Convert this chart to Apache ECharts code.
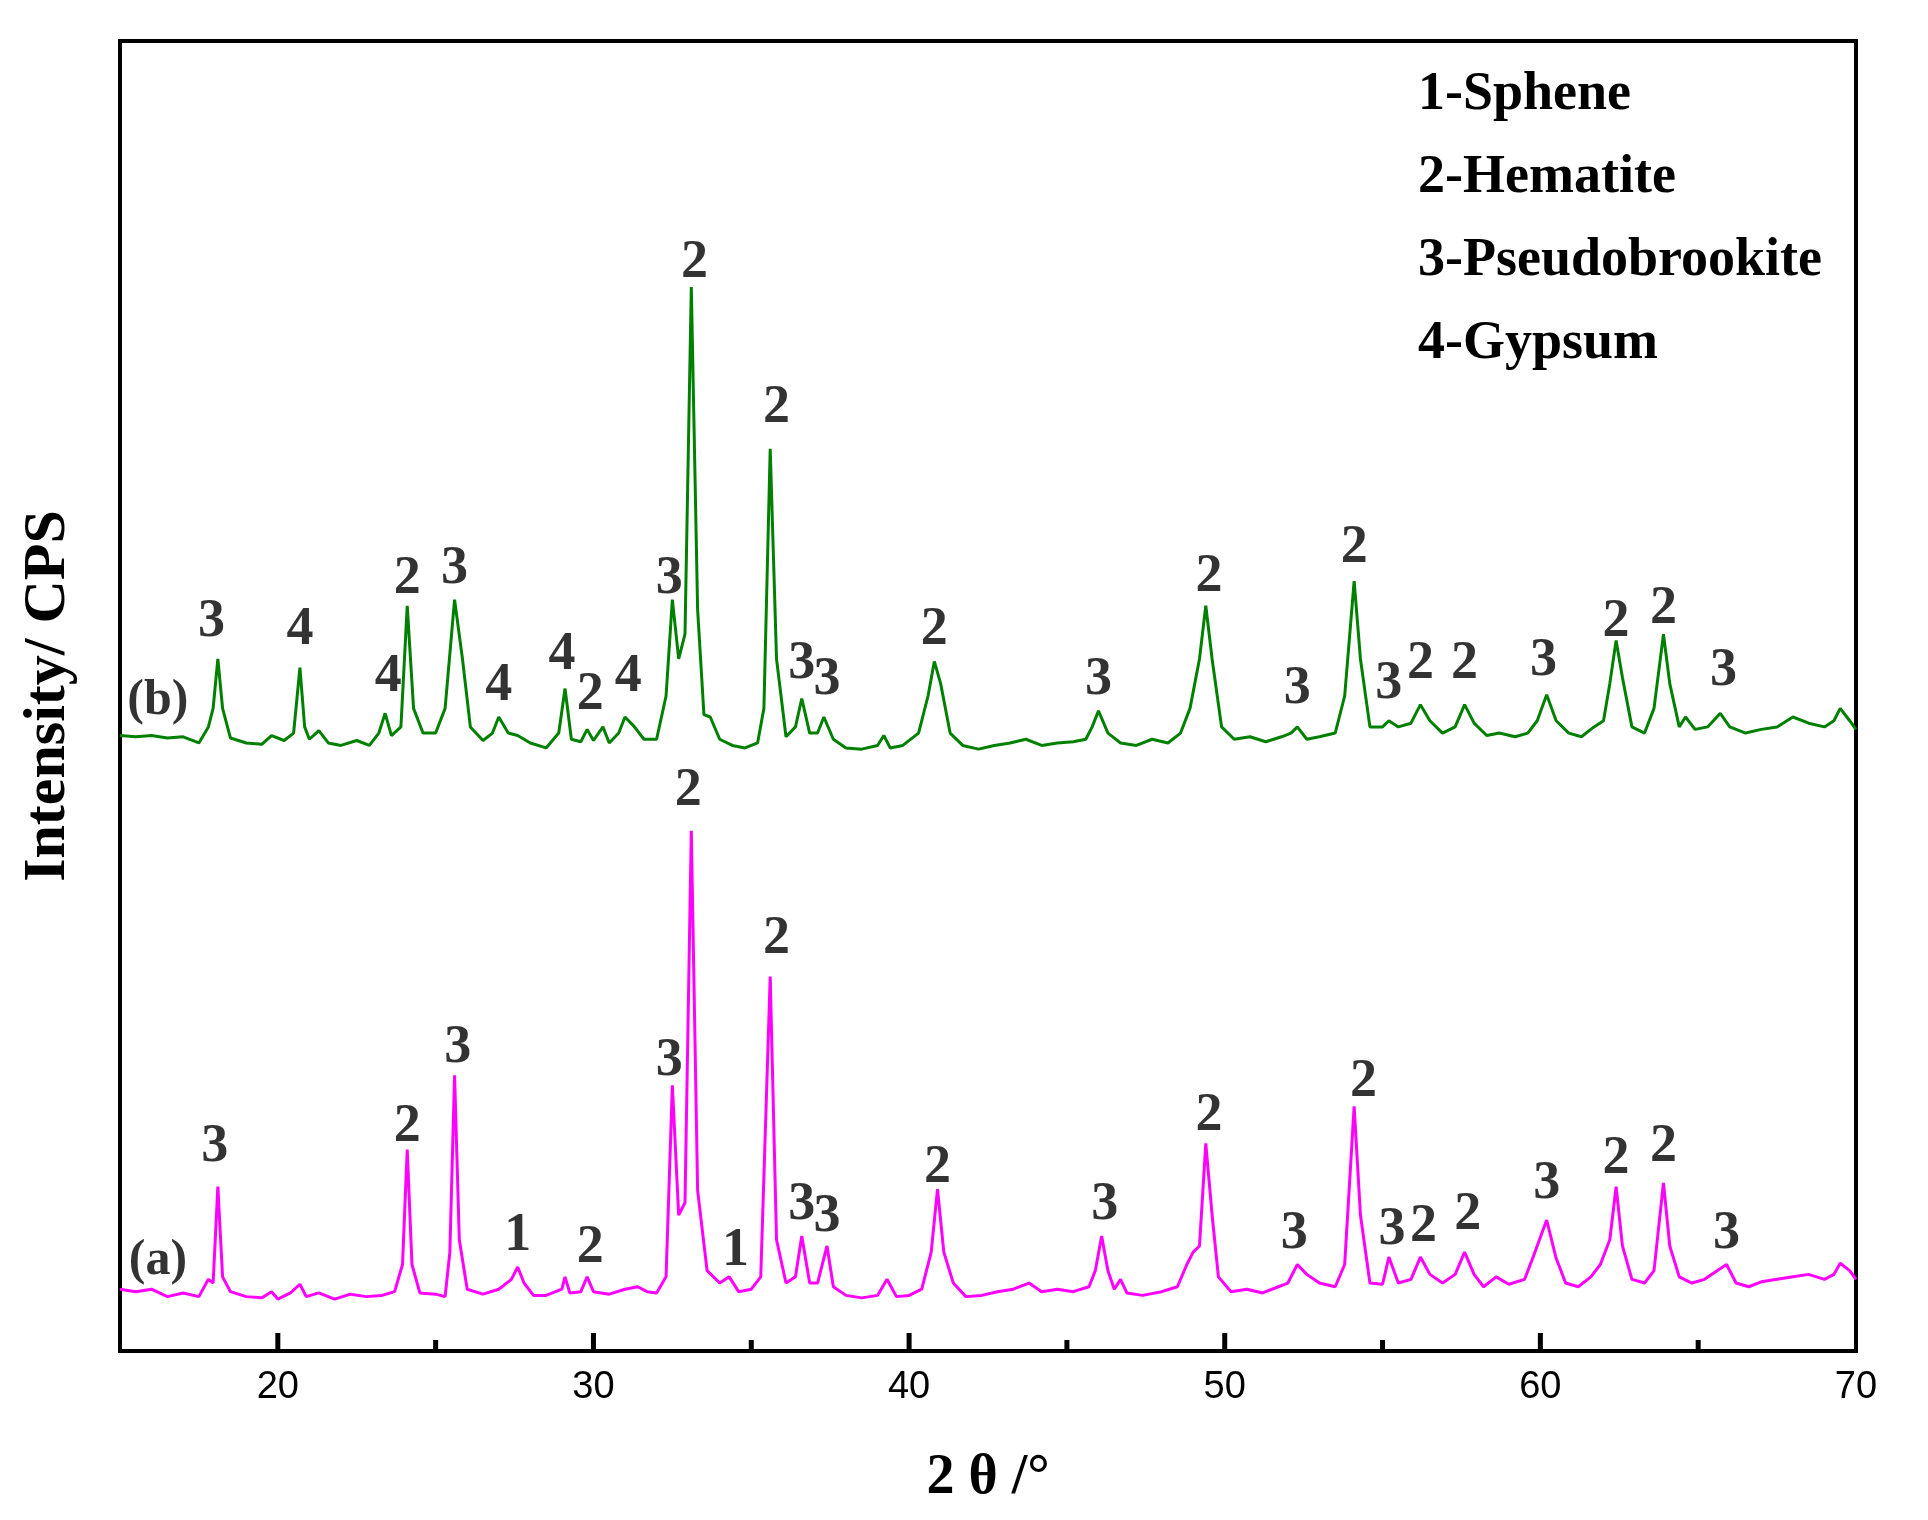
<!DOCTYPE html>
<html>
<head>
<meta charset="utf-8">
<script src="https://cdn.jsdelivr.net/npm/echarts@6/dist/echarts.min.js"></script>
<style>html,body{margin:0;padding:0;background:#fff}#main{width:1928px;height:1520px}</style>
</head>
<body>
<div id="main"></div>
<script>
// 2theta / intensity pairs (arbitrary intensity units)
var curveA = [
  [15.0,50],[15.5,48],[16.0,50],[16.5,44],[17.0,47],[17.5,44],[17.8,58],[17.95,55],[18.1,133],[18.25,60],[18.5,48],[19.0,44],[19.5,43],[19.8,48],[20.0,42],[20.4,47],[20.7,54],[20.9,44],[21.3,47],[21.8,42],[22.3,46],[22.8,44],[23.3,45],[23.7,48],[23.95,70],[24.1,163],[24.25,70],[24.5,47],[25.0,46],[25.3,44],[25.45,80],[25.6,223],[25.75,90],[26.0,50],[26.5,46],[27.0,50],[27.4,58],[27.6,68],[27.8,55],[28.1,45],[28.5,45],[29.0,50],[29.1,60],[29.25,47],[29.6,48],[29.8,60],[30.0,48],[30.5,46],[31.0,50],[31.4,52],[31.7,48],[32.0,47],[32.3,60],[32.5,215],[32.7,110],[32.9,120],[33.1,421],[33.3,130],[33.6,65],[34.0,55],[34.3,60],[34.6,48],[35.0,50],[35.3,60],[35.6,303],[35.8,90],[36.1,55],[36.4,60],[36.6,93],[36.85,55],[37.1,55],[37.4,85],[37.6,52],[38.0,45],[38.5,43],[39.0,45],[39.3,58],[39.6,44],[40.0,45],[40.4,50],[40.7,80],[40.9,131],[41.1,80],[41.4,55],[41.8,44],[42.3,45],[42.8,48],[43.3,50],[43.8,55],[44.2,48],[44.7,50],[45.2,48],[45.7,52],[45.9,65],[46.1,93],[46.3,65],[46.5,50],[46.7,58],[46.9,47],[47.4,45],[48.0,48],[48.5,52],[48.8,70],[49.0,80],[49.2,85],[49.4,168],[49.6,110],[49.8,60],[50.2,48],[50.7,50],[51.2,47],[51.7,52],[52.0,55],[52.3,70],[52.6,62],[53.0,55],[53.5,52],[53.8,70],[54.1,198],[54.3,110],[54.6,55],[55.0,54],[55.2,76],[55.5,55],[55.9,58],[56.2,76],[56.5,62],[56.9,55],[57.3,62],[57.6,80],[57.9,62],[58.2,52],[58.6,60],[59.0,54],[59.5,58],[59.8,78],[60.2,106],[60.5,75],[60.8,55],[61.2,52],[61.6,60],[61.9,70],[62.2,90],[62.4,133],[62.6,85],[62.9,58],[63.3,55],[63.6,65],[63.9,136],[64.1,85],[64.4,60],[64.8,55],[65.2,58],[65.6,65],[65.9,70],[66.2,55],[66.6,52],[67.0,56],[67.5,58],[68.0,60],[68.5,62],[69.0,58],[69.3,62],[69.5,71],[69.8,65],[70.0,58]
];
var curveB = [
  [15.0,498],[15.5,497],[16.0,498],[16.5,496],[17.0,497],[17.5,492],[17.8,505],[17.95,520],[18.1,560],[18.25,520],[18.5,496],[19.0,492],[19.5,491],[19.8,498],[20.2,494],[20.5,500],[20.7,553],[20.85,505],[21.0,495],[21.3,502],[21.6,492],[22.0,490],[22.5,494],[22.9,490],[23.2,500],[23.4,516],[23.6,498],[23.9,505],[24.1,603],[24.3,520],[24.6,500],[25.0,500],[25.3,520],[25.6,608],[25.85,560],[26.1,505],[26.5,494],[26.8,500],[27.0,513],[27.3,500],[27.6,498],[28.0,492],[28.5,488],[28.9,500],[29.1,536],[29.3,495],[29.6,493],[29.8,503],[30.0,494],[30.3,505],[30.5,492],[30.8,500],[31.0,513],[31.3,505],[31.6,495],[32.0,495],[32.3,530],[32.5,608],[32.7,560],[32.9,580],[33.1,861],[33.3,600],[33.5,515],[33.7,513],[34.0,495],[34.4,490],[34.8,488],[35.2,492],[35.4,520],[35.6,730],[35.8,560],[36.1,497],[36.4,505],[36.6,528],[36.85,500],[37.1,500],[37.3,513],[37.6,495],[38.0,488],[38.5,487],[39.0,490],[39.2,498],[39.4,488],[39.8,490],[40.3,500],[40.6,530],[40.8,558],[41.0,540],[41.3,500],[41.7,490],[42.2,487],[42.7,490],[43.2,492],[43.7,495],[44.2,490],[44.7,492],[45.2,493],[45.6,495],[45.8,505],[46.0,518],[46.3,500],[46.7,492],[47.2,490],[47.7,495],[48.2,492],[48.6,500],[48.9,520],[49.2,560],[49.4,603],[49.6,560],[49.9,505],[50.3,495],[50.8,497],[51.3,493],[51.8,497],[52.1,500],[52.3,505],[52.6,495],[53.0,497],[53.5,500],[53.8,530],[54.1,623],[54.3,560],[54.6,505],[55.0,505],[55.2,510],[55.5,505],[55.9,508],[56.2,523],[56.5,510],[56.9,500],[57.3,505],[57.6,523],[57.9,508],[58.3,498],[58.7,500],[59.2,497],[59.6,500],[59.9,510],[60.2,531],[60.5,510],[60.9,500],[61.3,497],[61.7,505],[62.0,510],[62.2,540],[62.4,575],[62.6,545],[62.9,505],[63.3,500],[63.6,520],[63.9,580],[64.1,540],[64.4,505],[64.6,513],[64.9,503],[65.3,505],[65.7,516],[66.0,505],[66.5,500],[67.0,503],[67.5,505],[68.0,513],[68.5,508],[69.0,505],[69.3,510],[69.5,520],[69.8,510],[70.0,503]
];
// peak marks: [2theta, label height, phase number]
var marksA = [
  [18.0,165,'3'],[24.1,181,'2'],[25.7,245,'3'],[27.6,93,'1'],[29.9,83,'2'],[32.4,235,'3'],[33.0,453,'2'],[34.5,81,'1'],[35.8,333,'2'],[36.6,118,'3'],[37.4,108,'3'],[40.9,148,'2'],[46.2,118,'3'],[49.5,190,'2'],[52.2,95,'3'],[54.4,218,'2'],[55.3,98,'3'],[56.3,100,'2'],[57.7,110,'2'],[60.2,135,'3'],[62.4,155,'2'],[63.9,165,'2'],[65.9,95,'3']
];
var marksB = [
  [17.9,590,'3'],[20.7,583,'4'],[23.5,545,'4'],[24.1,625,'2'],[25.6,633,'3'],[27.0,538,'4'],[29.0,563,'4'],[29.9,531,'2'],[31.1,545,'4'],[32.4,625,'3'],[33.2,880,'2'],[35.8,763,'2'],[36.6,556,'3'],[37.4,543,'3'],[40.8,583,'2'],[46.0,543,'3'],[49.5,626,'2'],[52.3,536,'3'],[54.1,650,'2'],[55.2,540,'3'],[56.2,556,'2'],[57.6,556,'2'],[60.1,558,'3'],[62.4,590,'2'],[63.9,600,'2'],[65.8,550,'3']
];
var sampleTags = [[16.2,73,'(a)'],[16.2,526,'(b)']];
var legendLines = ['1-Sphene','2-Hematite','3-Pseudobrookite','4-Gypsum'];
// x tick positions: [2theta, major(1)/minor(0)]
var xTicks = [[20,1],[25,0],[30,1],[35,0],[40,1],[45,0],[50,1],[55,0],[60,1],[65,0]];

var chart = echarts.init(document.getElementById('main'));
var serif = '"Liberation Serif", "Times New Roman", serif';

function markSeries(data, size) {
  return {
    type: 'scatter',
    symbolSize: 0,
    silent: true,
    data: data,
    label: {
      show: true, position: 'inside',
      formatter: function (p) { return p.value[2]; },
      fontFamily: serif, fontWeight: 'bold', fontSize: size, color: '#000'
    },
    z: 5
  };
}

var option = {
  animation: false,
  backgroundColor: '#fff',
  grid: { left: 120, right: 72, top: 41, bottom: 169, show: true, borderColor: '#000', borderWidth: 4 },
  xAxis: {
    type: 'value', min: 15, max: 70, interval: 5,
    axisLine: { lineStyle: { color: '#000', width: 4 } },
    axisTick: { show: false },
    splitLine: { show: false },
    axisLabel: { fontFamily: '"Liberation Sans", Arial, sans-serif', fontSize: 38, color: '#000', margin: 18,
      formatter: function (v) { return v % 10 === 0 ? v : ''; } },
    name: '2 θ /°', nameLocation: 'middle', nameGap: 100,
    nameTextStyle: { fontFamily: serif, fontWeight: 'bold', fontSize: 56, color: '#000' }
  },
  yAxis: {
    type: 'value', min: 0, max: 1060,
    axisLine: { show: true, lineStyle: { color: '#000', width: 4 } },
    axisTick: { show: false }, axisLabel: { show: false }, splitLine: { show: false },
    name: 'Intensity/ CPS', nameLocation: 'middle', nameGap: 42,
    nameTextStyle: { fontFamily: serif, fontWeight: 'bold', fontSize: 60, color: '#000' }
  },
  graphic: legendLines.map(function (t, i) {
    return { type: 'text', left: 1418, top: 68 + i * 83,
      style: { text: t, fontFamily: serif, fontWeight: 'bold', fontSize: 54, fill: '#000' } };
  }),
  series: [
    { type: 'line', data: curveA, showSymbol: false, lineStyle: { color: '#ff00ff', width: 3 } },
    { type: 'line', data: curveB, showSymbol: false, lineStyle: { color: '#008000', width: 3 } },
    markSeries(marksA, 54),
    markSeries(marksB, 54),
    markSeries(sampleTags, 50),
    {
      type: 'custom', silent: true, clip: false, data: xTicks, z: 6,
      encode: { x: 0 },
      renderItem: function (params, api) {
        var p = api.coord([api.value(0), 0]);
        var len = api.value(1) ? 18 : 11;
        return { type: 'line', shape: { x1: p[0], y1: p[1], x2: p[0], y2: p[1] - len },
          style: { stroke: '#000', lineWidth: 5 } };
      }
    }
  ]
};
chart.setOption(option);
</script>
</body>
</html>
